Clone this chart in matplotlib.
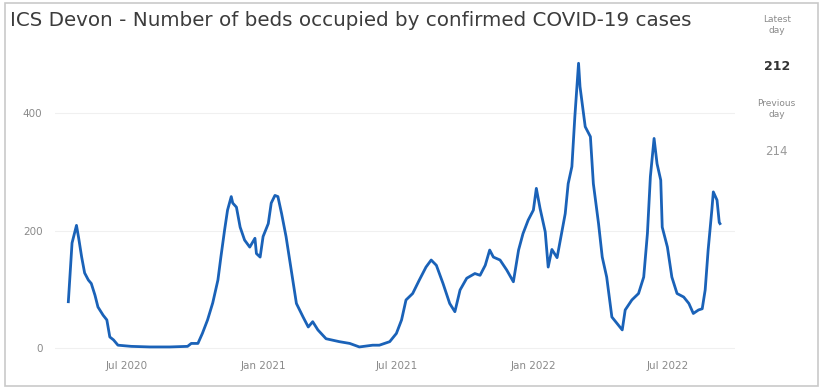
import numpy as np
import pandas as pd
import matplotlib
matplotlib.use("Agg")
import matplotlib.pyplot as plt
import matplotlib.dates as mdates
from matplotlib.patches import Rectangle

# beds occupied by confirmed COVID-19 patients, ICS Devon
dates = [
    "2020-04-13", "2020-04-18", "2020-04-24", "2020-04-27", "2020-05-01", "2020-05-05",
    "2020-05-10", "2020-05-14", "2020-05-19", "2020-05-23", "2020-05-30", "2020-06-04",
    "2020-06-08", "2020-06-13", "2020-06-19", "2020-07-07", "2020-08-01", "2020-08-28",
    "2020-09-21", "2020-09-26", "2020-10-05", "2020-10-11", "2020-10-18", "2020-10-25",
    "2020-11-01", "2020-11-05", "2020-11-10", "2020-11-14", "2020-11-19", "2020-11-21",
    "2020-11-26", "2020-12-01", "2020-12-07", "2020-12-14", "2020-12-21", "2020-12-23",
    "2020-12-28", "2021-01-01", "2021-01-08", "2021-01-12", "2021-01-17", "2021-01-21",
    "2021-01-26", "2021-02-01", "2021-02-08", "2021-02-15", "2021-02-24", "2021-03-03",
    "2021-03-09", "2021-03-16", "2021-03-27", "2021-04-14", "2021-04-28", "2021-05-11",
    "2021-05-29", "2021-06-07", "2021-06-21", "2021-06-30", "2021-07-07", "2021-07-13",
    "2021-07-22", "2021-07-31", "2021-08-09", "2021-08-16", "2021-08-23", "2021-09-01",
    "2021-09-10", "2021-09-17", "2021-09-24", "2021-10-03", "2021-10-14", "2021-10-21",
    "2021-10-28", "2021-11-03", "2021-11-08", "2021-11-17", "2021-11-26", "2021-12-05",
    "2021-12-12", "2021-12-18", "2021-12-25", "2022-01-01", "2022-01-05", "2022-01-10",
    "2022-01-17", "2022-01-21", "2022-01-26", "2022-02-02", "2022-02-08", "2022-02-13",
    "2022-02-17", "2022-02-22", "2022-02-26", "2022-03-03", "2022-03-05", "2022-03-12",
    "2022-03-19", "2022-03-23", "2022-03-30", "2022-04-04", "2022-04-10", "2022-04-17",
    "2022-04-24", "2022-05-01", "2022-05-05", "2022-05-14", "2022-05-23", "2022-05-30",
    "2022-06-04", "2022-06-08", "2022-06-13", "2022-06-17", "2022-06-22", "2022-06-24",
    "2022-07-01", "2022-07-07", "2022-07-14", "2022-07-23", "2022-07-30", "2022-08-05",
    "2022-08-12", "2022-08-17", "2022-08-21", "2022-08-25", "2022-08-30", "2022-09-01",
    "2022-09-06", "2022-09-09", "2022-09-10",
]
beds = [
    79, 179, 209, 187, 155, 128,
    116, 110, 90, 70, 56, 48,
    19, 14, 5, 3, 2, 2,
    3, 8, 8, 25, 48, 77,
    116, 155, 201, 235, 258, 247,
    240, 206, 184, 172, 187, 161,
    155, 190, 212, 247, 260, 258,
    229, 190, 133, 76, 53, 36,
    45, 31, 16, 11, 8, 2,
    5, 5, 11, 25, 48, 82,
    93, 116, 138, 150, 141, 110,
    76, 62, 99, 119, 127, 124,
    141, 167, 155, 150, 133, 113,
    167, 195, 218, 235, 272, 238,
    198, 138, 168, 154, 195, 229,
    280, 309, 394, 485, 445, 377,
    360, 280, 212, 155, 121, 53,
    42, 31, 65, 82, 93, 121,
    195, 292, 357, 314, 286, 206,
    172, 121, 93, 87, 76, 59,
    65, 67, 99, 167, 235, 266,
    252, 214, 212,
]

latest_label = "Latest\nday"
previous_label = "Previous\nday"
latest_value = beds[-1]
previous_value = beds[-2]
title = "ICS Devon - Number of beds occupied by confirmed COVID-19 cases"

x = pd.to_datetime(dates)

fig = plt.figure(figsize=(8.21, 3.89), dpi=100)
fig.patch.set_facecolor("white")
fig.patches.append(Rectangle((0.006, 0.008), 0.99, 0.984, transform=fig.transFigure,
                             fill=False, edgecolor="#c9c9c9", linewidth=1.2))

ax = fig.add_axes([0.067, 0.093, 0.828, 0.767])
ax.plot(x, beds, color="#1a62b8", linewidth=2.0, solid_joinstyle="round")

ax.set_xlim(pd.Timestamp("2020-03-26"), pd.Timestamp("2022-09-30"))
ax.set_ylim(-8, 500)
ax.set_yticks([0, 200, 400])
ax.yaxis.grid(True, color="#f0f0f0", linewidth=0.8)
ax.set_axisbelow(True)

ax.xaxis.set_major_locator(mdates.MonthLocator(bymonth=[1, 7]))
ax.xaxis.set_major_formatter(mdates.DateFormatter("%b %Y"))
ax.tick_params(axis="both", length=0, labelsize=7.5, labelcolor="#8a8a8a")
ax.tick_params(axis="x", pad=6)
ax.tick_params(axis="y", pad=9)
for s in ax.spines.values():
    s.set_visible(False)

fig.text(0.012, 0.947, title, fontsize=14.3, color="#3c3c3c", ha="left", va="center")

# side cards with latest and previous day
cx = 0.946
fig.text(cx, 0.935, latest_label, fontsize=6.5, color="#8a8a8a", ha="center", va="center",
         linespacing=1.3)
fig.text(cx, 0.828, str(latest_value), fontsize=9, fontweight="bold", color="#333333",
         ha="center", va="center")
fig.text(cx, 0.72, previous_label, fontsize=6.5, color="#8a8a8a", ha="center", va="center",
         linespacing=1.3)
fig.text(cx, 0.61, str(previous_value), fontsize=8.5, color="#9a9a9a", ha="center", va="center")

fig.savefig("out.png", dpi=100)
